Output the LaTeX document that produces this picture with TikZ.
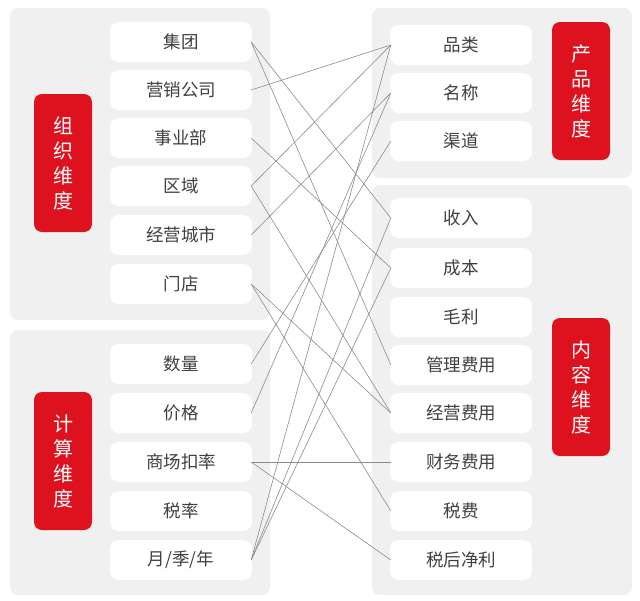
\documentclass[tikz,border=0pt]{standalone}
\usepackage{fontspec}
\newfontfamily\cjk{Noto Sans CJK SC}
\definecolor{tagred}{RGB}{222,18,30}
\begin{document}
\begin{tikzpicture}[x=1pt,y=-1pt,
  panel/.style={fill=black!6,rounded corners=8pt},
  item/.style={fill=white,rounded corners=9pt,minimum width=142pt,minimum height=40pt,inner sep=0pt,font=\cjk\fontsize{17.5}{20}\selectfont,text=black!75},
  tag/.style={fill=tagred,rounded corners=8pt,minimum width=58pt,minimum height=138pt,inner sep=0pt,text=white,font=\cjk\fontsize{20}{25}\selectfont,align=center},
  link/.style={draw=black!45,line width=0.6pt}]
\useasboundingbox (0,0) rectangle (640,600);
\fill[white] (0,0) rectangle (640,600);
\fill[panel] (10,8) rectangle (270,320);
\fill[panel] (10,330) rectangle (270,595);
\fill[panel] (372,8) rectangle (632,178);
\fill[panel] (372,185) rectangle (632,595);
\node[tag] (t1) at (63,163) {组\\织\\维\\度};
\node[tag] (t2) at (63,461) {计\\算\\维\\度};
\node[tag] (t3) at (581,91) {产\\品\\维\\度};
\node[tag] (t4) at (581,387) {内\\容\\维\\度};
\foreach \n/\t/\y in {a1/集团/42,a2/营销公司/90,a3/事业部/138,a4/区域/186,a5/经营城市/235,a6/门店/284,
  b1/数量/364,b2/价格/413,b3/商场扣率/462,b4/税率/511}
  \node[item] (\n) at (181,\y) {\t};
\node[item] (b5) at (181,560) {月/季/年};
\foreach \n/\t/\y in {c1/品类/45,c2/名称/93,c3/渠道/141,
  d1/收入/218,d2/成本/268,d3/毛利/317,d4/管理费用/365,d5/经营费用/413,d6/财务费用/462,d7/税费/511,d8/税后净利/560}
  \node[item] (\n) at (461,\y) {\t};
\foreach \l/\r in {a1/d1,a1/d4,a2/c1,a3/d2,a4/c1,a4/d5,a5/c2,a6/d5,a6/d7,
  b1/c3,b2/c2,b3/d6,b3/d8,b5/c1,b5/d1,b5/d2}
  \draw[link] ([xshift=-1pt]\l.east) -- ([xshift=1pt]\r.west);
\end{tikzpicture}
\end{document}
